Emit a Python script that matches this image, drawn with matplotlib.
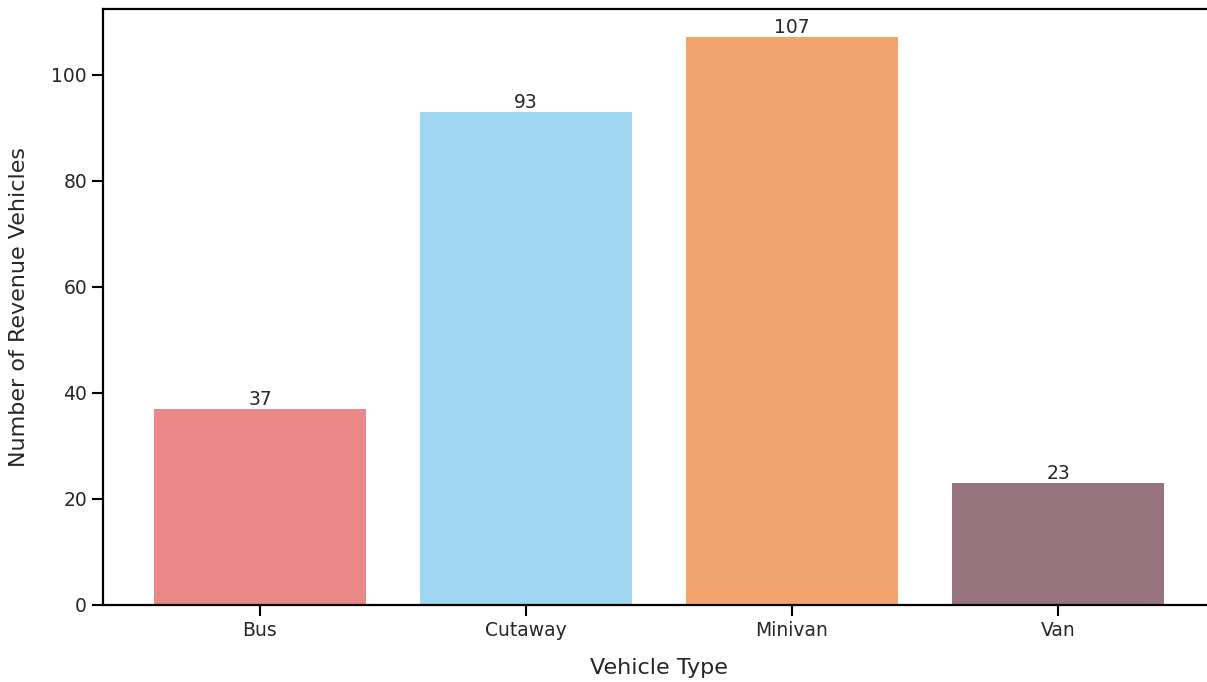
import matplotlib
matplotlib.use("Agg")
import matplotlib.pyplot as plt

categories = ["Bus", "Cutaway", "Minivan", "Van"]
counts = [37, 93, 107, 23]
colors = ["#EA8787", "#9FD6F0", "#F3A46E", "#98747F"]

plt.rcParams['font.family'] = ['DejaVu Sans']
text_color = "#262626"

fig = plt.figure(figsize=(12.07, 6.82), dpi=100)
ax = fig.add_axes([103/1207, 1 - 605/682, (1215 - 103)/1207, (605 - 9)/682])

bars = ax.bar(categories, counts, color=colors, width=0.8)
for b, v in zip(bars, counts):
    ax.text(b.get_x() + b.get_width()/2, v, str(v), ha="center", va="bottom",
            fontsize=13.5, color=text_color)

ax.set_ylim(0, 112.35)
ax.set_xlabel("Vehicle Type", fontsize=16, color=text_color, labelpad=13)
ax.set_ylabel("Number of Revenue Vehicles", fontsize=16, color=text_color, labelpad=16)
ax.tick_params(axis="both", labelsize=13.5, colors=text_color, length=8, width=1.5)
ax.tick_params(axis="both", labelcolor=text_color, color="black")
for s in ax.spines.values():
    s.set_linewidth(1.6)
    s.set_color("black")

fig.savefig("out.png", dpi=100)
